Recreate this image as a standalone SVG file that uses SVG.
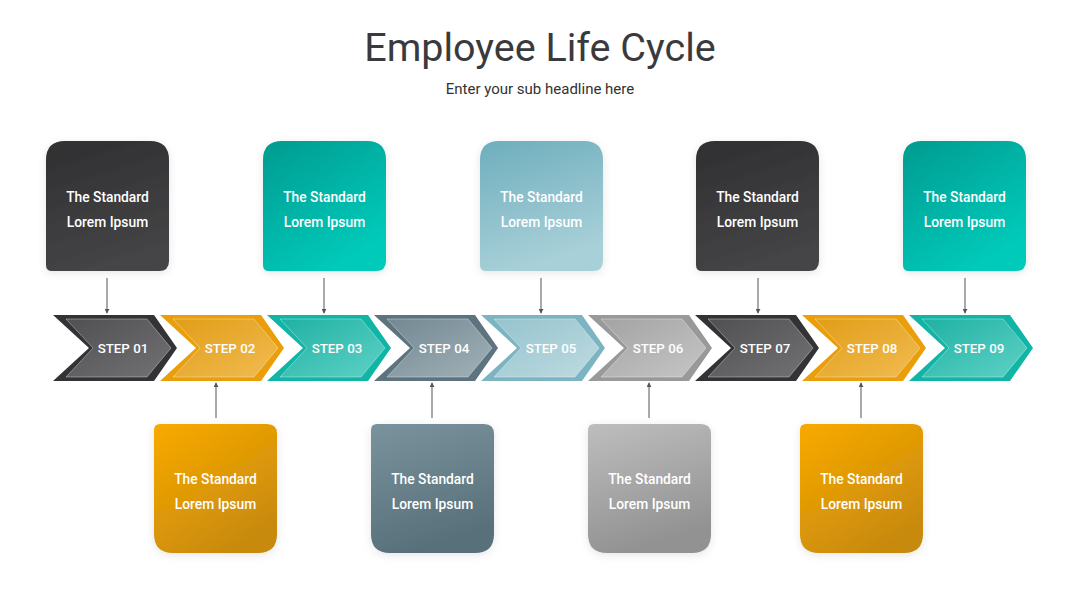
<svg xmlns="http://www.w3.org/2000/svg" xmlns:xlink="http://www.w3.org/1999/xlink" width="1080" height="608" viewBox="0 0 1080 608">
  <defs>
    <style>
      .title { font-family: Roboto, "Liberation Sans", sans-serif; font-size: 39.5px; fill: #3a3a3c; text-anchor: middle; }
      .sub { font-family: Roboto, "Liberation Sans", sans-serif; font-size: 15px; fill: #333333; text-anchor: middle; }
      .box-t { font-family: Roboto, "Liberation Sans", sans-serif; font-size: 13.8px; font-weight: 500; fill: #ffffff; text-anchor: middle; }
      .step-t { font-family: Roboto, "Liberation Sans", sans-serif; font-size: 13.3px; font-weight: 500; fill: #ffffff; text-anchor: middle; }
      .conn { stroke: #555555; stroke-width: 1; fill: none; }
      .hl { stroke: rgba(255,255,255,0.35); stroke-width: 1; }
    </style>
    <filter id="shadow" x="-20%" y="-20%" width="140%" height="140%">
      <feDropShadow dx="0" dy="2" stdDeviation="4" flood-color="#000000" flood-opacity="0.1"/>
    </filter>
    <marker id="arr" viewBox="0 0 6 6" refX="5" refY="3" markerWidth="5" markerHeight="5" orient="auto">
      <path d="M0,0 L6,3 L0,6 Z" fill="#555555"/>
    </marker>
    <path id="chev-outer" d="M0,0 H101 L124,33 L101,66 H0 L36,33 Z"/>
    <path id="chev-inner" d="M13,4 H94 L118,33 L94,62 H13 L40,33 Z"/>
    <path id="box-top" d="M19,0 H104 Q123,0 123,19 V120 Q123,130 113,130 H6 Q0,130 0,124 V19 Q0,0 19,0 Z"/>
    <path id="box-bot" d="M6,0 H113 Q123,0 123,10 V110 Q123,129 104,129 H19 Q0,129 0,110 V6 Q0,0 6,0 Z"/>
    <linearGradient id="gDarkC" x1="0" y1="0" x2="1" y2="1"><stop offset="0" stop-color="#505053"/><stop offset="1" stop-color="#727274"/></linearGradient>
    <linearGradient id="gOrangeC" x1="0" y1="0" x2="1" y2="1"><stop offset="0" stop-color="#e19d17"/><stop offset="1" stop-color="#f1bc52"/></linearGradient>
    <linearGradient id="gTealC" x1="0" y1="0" x2="1" y2="1"><stop offset="0" stop-color="#1fb1a3"/><stop offset="1" stop-color="#5ed2c6"/></linearGradient>
    <linearGradient id="gSlateC" x1="0" y1="0" x2="1" y2="1"><stop offset="0" stop-color="#728892"/><stop offset="1" stop-color="#a2b1b8"/></linearGradient>
    <linearGradient id="gBlueC" x1="0" y1="0" x2="1" y2="1"><stop offset="0" stop-color="#95c3cd"/><stop offset="1" stop-color="#bedbe1"/></linearGradient>
    <linearGradient id="gGrayC" x1="0" y1="0" x2="1" y2="1"><stop offset="0" stop-color="#a3a3a3"/><stop offset="1" stop-color="#c6c6c6"/></linearGradient>
    <linearGradient id="gDarkB" x1="0" y1="0" x2="0.3" y2="1"><stop offset="0" stop-color="#2f2f31"/><stop offset="1" stop-color="#444446"/></linearGradient>
    <linearGradient id="gTealB" x1="0" y1="0" x2="0.6" y2="1"><stop offset="0" stop-color="#009b90"/><stop offset="1" stop-color="#00cbbb"/></linearGradient>
    <linearGradient id="gBlueB" x1="0" y1="0" x2="0.3" y2="1"><stop offset="0" stop-color="#6eaebd"/><stop offset="1" stop-color="#a8d0d8"/></linearGradient>
    <linearGradient id="gOrangeB" x1="0" y1="0" x2="0.6" y2="1"><stop offset="0" stop-color="#f9aa00"/><stop offset="1" stop-color="#c88a0c"/></linearGradient>
    <linearGradient id="gSlateB" x1="0" y1="0" x2="0.3" y2="1"><stop offset="0" stop-color="#7b939d"/><stop offset="1" stop-color="#58707a"/></linearGradient>
    <linearGradient id="gGrayB" x1="0" y1="0" x2="0.3" y2="1"><stop offset="0" stop-color="#bebebe"/><stop offset="1" stop-color="#929292"/></linearGradient>
  </defs>

  <rect x="0" y="0" width="1080" height="608" fill="#ffffff"/>

  <g id="header">
    <text class="title" x="540" y="61">Employee Life Cycle</text>
    <text class="sub" x="540" y="94">Enter your sub headline here</text>
  </g>

  <g id="connectors">
    <line class="conn" x1="107" y1="278" x2="107" y2="313" marker-end="url(#arr)"/>
    <line class="conn" x1="324" y1="278" x2="324" y2="313" marker-end="url(#arr)"/>
    <line class="conn" x1="541" y1="278" x2="541" y2="313" marker-end="url(#arr)"/>
    <line class="conn" x1="758" y1="278" x2="758" y2="313" marker-end="url(#arr)"/>
    <line class="conn" x1="965" y1="278" x2="965" y2="313" marker-end="url(#arr)"/>
    <line class="conn" x1="216" y1="418" x2="216" y2="383" marker-end="url(#arr)"/>
    <line class="conn" x1="432" y1="418" x2="432" y2="383" marker-end="url(#arr)"/>
    <line class="conn" x1="649" y1="418" x2="649" y2="383" marker-end="url(#arr)"/>
    <line class="conn" x1="861" y1="418" x2="861" y2="383" marker-end="url(#arr)"/>
  </g>

  <g id="step01" transform="translate(53,315)">
    <use xlink:href="#chev-outer" fill="#333336"/>
    <use xlink:href="#chev-inner" fill="url(#gDarkC)" class="hl"/>
    <text class="step-t" x="70" y="38">STEP 01</text>
  </g>
  <g id="step02" transform="translate(160,315)">
    <use xlink:href="#chev-outer" fill="#e99e0a"/>
    <use xlink:href="#chev-inner" fill="url(#gOrangeC)" class="hl"/>
    <text class="step-t" x="70" y="38">STEP 02</text>
  </g>
  <g id="step03" transform="translate(267,315)">
    <use xlink:href="#chev-outer" fill="#10b5a5"/>
    <use xlink:href="#chev-inner" fill="url(#gTealC)" class="hl"/>
    <text class="step-t" x="70" y="38">STEP 03</text>
  </g>
  <g id="step04" transform="translate(374,315)">
    <use xlink:href="#chev-outer" fill="#5d7480"/>
    <use xlink:href="#chev-inner" fill="url(#gSlateC)" class="hl"/>
    <text class="step-t" x="70" y="38">STEP 04</text>
  </g>
  <g id="step05" transform="translate(481,315)">
    <use xlink:href="#chev-outer" fill="#7db4c1"/>
    <use xlink:href="#chev-inner" fill="url(#gBlueC)" class="hl"/>
    <text class="step-t" x="70" y="38">STEP 05</text>
  </g>
  <g id="step06" transform="translate(588,315)">
    <use xlink:href="#chev-outer" fill="#999999"/>
    <use xlink:href="#chev-inner" fill="url(#gGrayC)" class="hl"/>
    <text class="step-t" x="70" y="38">STEP 06</text>
  </g>
  <g id="step07" transform="translate(695,315)">
    <use xlink:href="#chev-outer" fill="#333336"/>
    <use xlink:href="#chev-inner" fill="url(#gDarkC)" class="hl"/>
    <text class="step-t" x="70" y="38">STEP 07</text>
  </g>
  <g id="step08" transform="translate(802,315)">
    <use xlink:href="#chev-outer" fill="#e99e0a"/>
    <use xlink:href="#chev-inner" fill="url(#gOrangeC)" class="hl"/>
    <text class="step-t" x="70" y="38">STEP 08</text>
  </g>
  <g id="step09" transform="translate(909,315)">
    <use xlink:href="#chev-outer" fill="#10b5a5"/>
    <use xlink:href="#chev-inner" fill="url(#gTealC)" class="hl"/>
    <text class="step-t" x="70" y="38">STEP 09</text>
  </g>

  <g id="box01" transform="translate(46,141)">
    <use xlink:href="#box-top" fill="url(#gDarkB)" filter="url(#shadow)"/>
    <text class="box-t" x="61.5" y="61">The Standard</text>
    <text class="box-t" x="61.5" y="86">Lorem Ipsum</text>
  </g>
  <g id="box03" transform="translate(263,141)">
    <use xlink:href="#box-top" fill="url(#gTealB)" filter="url(#shadow)"/>
    <text class="box-t" x="61.5" y="61">The Standard</text>
    <text class="box-t" x="61.5" y="86">Lorem Ipsum</text>
  </g>
  <g id="box05" transform="translate(480,141)">
    <use xlink:href="#box-top" fill="url(#gBlueB)" filter="url(#shadow)"/>
    <text class="box-t" x="61.5" y="61">The Standard</text>
    <text class="box-t" x="61.5" y="86">Lorem Ipsum</text>
  </g>
  <g id="box07" transform="translate(696,141)">
    <use xlink:href="#box-top" fill="url(#gDarkB)" filter="url(#shadow)"/>
    <text class="box-t" x="61.5" y="61">The Standard</text>
    <text class="box-t" x="61.5" y="86">Lorem Ipsum</text>
  </g>
  <g id="box09" transform="translate(903,141)">
    <use xlink:href="#box-top" fill="url(#gTealB)" filter="url(#shadow)"/>
    <text class="box-t" x="61.5" y="61">The Standard</text>
    <text class="box-t" x="61.5" y="86">Lorem Ipsum</text>
  </g>

  <g id="box02" transform="translate(154,424)">
    <use xlink:href="#box-bot" fill="url(#gOrangeB)" filter="url(#shadow)"/>
    <text class="box-t" x="61.5" y="60">The Standard</text>
    <text class="box-t" x="61.5" y="85">Lorem Ipsum</text>
  </g>
  <g id="box04" transform="translate(371,424)">
    <use xlink:href="#box-bot" fill="url(#gSlateB)" filter="url(#shadow)"/>
    <text class="box-t" x="61.5" y="60">The Standard</text>
    <text class="box-t" x="61.5" y="85">Lorem Ipsum</text>
  </g>
  <g id="box06" transform="translate(588,424)">
    <use xlink:href="#box-bot" fill="url(#gGrayB)" filter="url(#shadow)"/>
    <text class="box-t" x="61.5" y="60">The Standard</text>
    <text class="box-t" x="61.5" y="85">Lorem Ipsum</text>
  </g>
  <g id="box08" transform="translate(800,424)">
    <use xlink:href="#box-bot" fill="url(#gOrangeB)" filter="url(#shadow)"/>
    <text class="box-t" x="61.5" y="60">The Standard</text>
    <text class="box-t" x="61.5" y="85">Lorem Ipsum</text>
  </g>
</svg>
